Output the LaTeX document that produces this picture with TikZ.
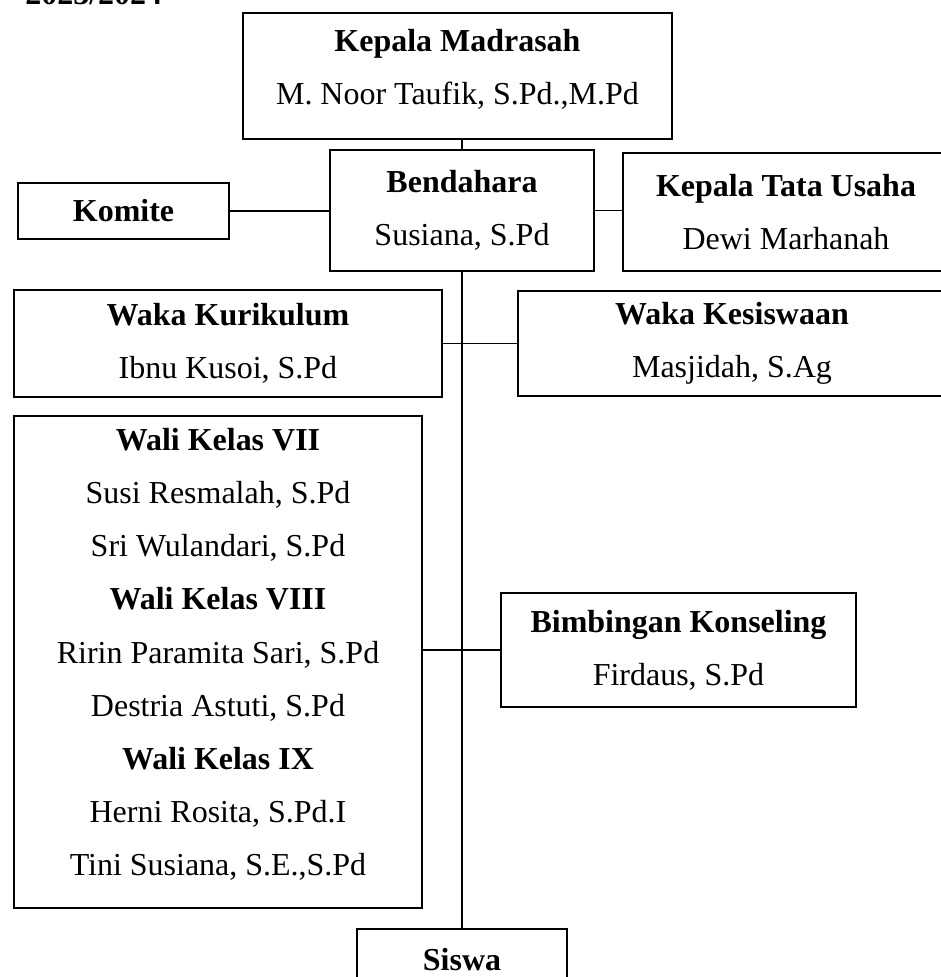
\documentclass[tikz,border=0pt]{standalone}
\usepackage{fontspec}
\setmainfont{Liberation Serif}
\usetikzlibrary{calc}
\tikzset{%
    unit/.style={inner sep=0pt,outer sep=0pt,shape=rectangle,draw,line width=0.7pt,align=center,font=\fontsize{18.2}{30.2}\selectfont},
    head unit/.style={unit,line width=1.5pt},
    link/.style={line width=0.6pt},
}

\begin{document}
\begin{tikzpicture}[x=0.02cm,y=-0.02cm]
        \useasboundingbox (0,0) rectangle (940,977);
        \node [anchor=base west,inner sep=0pt,font=\fontsize{18.2}{22}\selectfont\bfseries] (year) at (25,5) {2023/2024};

        \node [unit,minimum width=8.58cm,minimum height=2.52cm,text depth=10.3pt] (kepala) at (457.5,76) {\textbf{Kepala Madrasah}\\M. Noor Taufik, S.Pd.,M.Pd};
        \node [head unit,minimum width=5.28cm,minimum height=2.42cm] (bendahara) at (462,210.5) {\textbf{Bendahara}\\Susiana, S.Pd};
        \node [unit,minimum width=4.22cm,minimum height=1.12cm] (komite) at (123.5,211) {\textbf{Komite}};
        \node [unit,minimum width=6.52cm,minimum height=2.36cm] (ktu) at (786,212) {\textbf{Kepala Tata Usaha}\\Dewi Marhanah};

        \node [unit,minimum width=8.56cm,minimum height=2.14cm] (wakakur) at (228,343.5) {\textbf{Waka Kurikulum}\\Ibnu Kusoi, S.Pd};
        \node [unit,minimum width=8.56cm,minimum height=2.1cm] (wakakes) at (732,343.5) {\textbf{Waka Kesiswaan}\\Masjidah, S.Ag};

        \node [unit,minimum width=8.16cm,minimum height=9.84cm,text depth=11.5pt] (wali) at (218,662) {\textbf{Wali Kelas VII}\\Susi Resmalah, S.Pd\\Sri Wulandari, S.Pd\\\textbf{Wali Kelas VIII}\\Ririn Paramita Sari, S.Pd\\Destria Astuti, S.Pd\\\textbf{Wali Kelas IX}\\Herni Rosita, S.Pd.I\\Tini Susiana, S.E.,S.Pd};
        \node [unit,minimum width=7.1cm,minimum height=2.28cm] (bk) at (678.5,650) {\textbf{Bimbingan Konseling}\\Firdaus, S.Pd};

        \node [unit,minimum width=4.2cm,minimum height=1.24cm,anchor=north] (siswa) at (462,929) {\textbf{Siswa}};

        \draw [link] (bendahara.north |- kepala.south) -- (bendahara.north);
        \draw [link] (komite.east) -- (komite.east -| bendahara.west);
        \draw [link] (bendahara.east) -- (bendahara.east -| ktu.west);
        \draw [link] (bendahara.south) -- (siswa.north);
        \draw [link] (wakakur.east) -- (wakakes.west);
        \draw [link] (bk.west) -- (bk.west -| wali.east);
    \end{tikzpicture}
\end{document}
